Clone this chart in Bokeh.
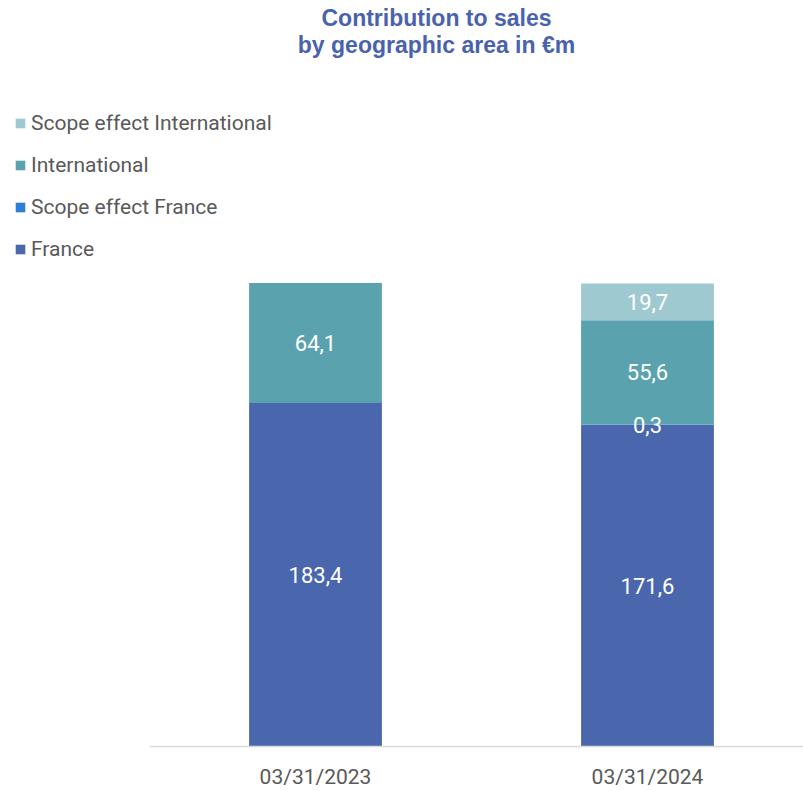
from bokeh.plotting import figure
from bokeh.models import (Range1d, FixedTicker, Legend, LegendItem, Label,
                          ColumnDataSource)
from bokeh.core.properties import value
from bokeh.embed import file_html
from bokeh.resources import INLINE

# ---- data ----
dates = ["03/31/2023", "03/31/2024"]
france = [183.4, 171.6]
scope_france = [0.0, 0.3]
international = [64.1, 55.6]
scope_international = [0.0, 19.7]

series_names = ["France", "Scope effect France", "International", "Scope effect International"]
series_values = [france, scope_france, international, scope_international]
colors = ["#4a66ad", "#2b7fd6", "#5aa3ae", "#9fc9d0"]

LABEL_FONT = "Roboto"
TEXT_GREY = "#595959"

xs = list(range(len(dates)))

p = figure(width=803, height=791, output_backend="svg", toolbar_location=None,
           x_range=Range1d(-0.9488, 1.4699), y_range=Range1d(0, 398.25),
           min_border_left=0, min_border_right=0, min_border_top=0,
           min_border_bottom=44)
p.outline_line_color = None
p.xgrid.visible = False
p.ygrid.visible = False
p.yaxis.visible = False
p.background_fill_color = "white"

renderers = []
bottoms = [0.0] * len(dates)
label_x, label_y, label_t = [], [], []
for name, vals, col in zip(series_names, series_values, colors):
    tops = [b + v for b, v in zip(bottoms, vals)]
    src = ColumnDataSource(dict(x=xs, bottom=bottoms, top=tops))
    r = p.vbar(x="x", bottom="bottom", top="top", width=0.4, source=src,
               fill_color=col, line_color=None)
    renderers.append((name, r))
    for i, v in enumerate(vals):
        if v > 0:
            label_x.append(xs[i])
            label_y.append((bottoms[i] + tops[i]) / 2)
            label_t.append(f"{v:.1f}".replace(".", ","))
    bottoms = tops

lsrc = ColumnDataSource(dict(x=label_x, y=label_y, t=label_t))
p.text(x="x", y="y", text="t", source=lsrc, text_color="white",
       text_font=value(LABEL_FONT), text_font_size="22px",
       text_align="center", text_baseline="middle")

# x axis
p.xaxis.ticker = FixedTicker(ticks=xs)
p.xaxis.major_label_overrides = {i: d for i, d in zip(xs, dates)}
p.xaxis.bounds = (-0.5, len(dates) - 0.5)
p.xaxis.axis_line_color = "#d9d9d9"
p.xaxis.axis_line_width = 1.5
p.xaxis.major_tick_line_color = None
p.xaxis.minor_tick_line_color = None
p.xaxis.major_tick_out = 0
p.xaxis.major_tick_in = 0
p.xaxis.major_label_text_font = LABEL_FONT
p.xaxis.major_label_text_font_size = "21px"
p.xaxis.major_label_text_color = TEXT_GREY
p.xaxis.major_label_standoff = 18

# legend (displayed top-down in reverse stacking order)
items = [LegendItem(label=n, renderers=[r]) for n, r in reversed(renderers)]
legend = Legend(items=items, location=(14, 485), orientation="vertical",
                glyph_width=12, glyph_height=12, label_standoff=5,
                label_height=25, spacing=17, padding=0, margin=0,
                border_line_color=None, background_fill_alpha=0,
                label_text_font=LABEL_FONT, label_text_font_size="21px",
                label_text_color=TEXT_GREY)
p.add_layout(legend)

# title
for txt, yy in [("Contribution to sales", 729), ("by geographic area in €m", 702)]:
    p.add_layout(Label(x=436, y=yy, x_units="screen", y_units="screen", text=txt,
                       text_font="Liberation Sans", text_font_style="bold",
                       text_font_size="23px", text_color="#4a62ae",
                       text_align="center", text_baseline="middle"))

open("out.html", "w").write(file_html(p, INLINE))
